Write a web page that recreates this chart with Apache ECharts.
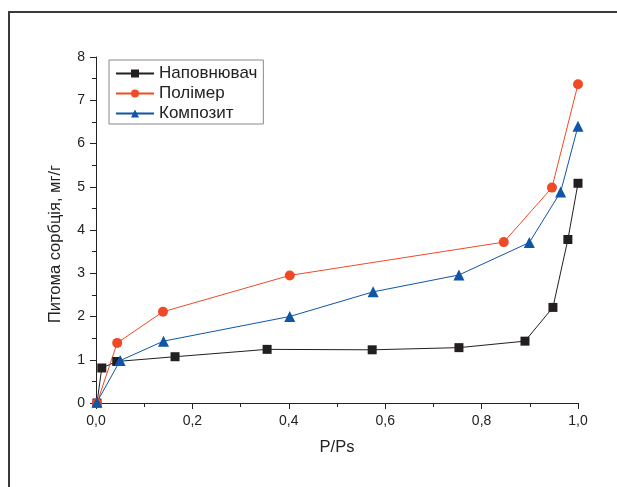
<!DOCTYPE html>
<html>
<head>
    <meta charset="utf-8">
    <title>ECharts</title>
    <script src="https://cdn.jsdelivr.net/npm/echarts@6/dist/echarts.min.js"></script>
</head>
<body style="margin:0;background:#fff">
    <div id="main" style="width: 617px;height:487px;"></div>
    <script type="text/javascript">
        // дані
        var names = ['Наповнювач', 'Полімер', 'Композит'];
        var fillerX = [0.002, 0.012, 0.043, 0.164, 0.355, 0.573, 0.753, 0.890, 0.948, 0.979, 1.0];
        var fillerY = [0.0, 0.81, 0.96, 1.07, 1.24, 1.23, 1.28, 1.43, 2.21, 3.78, 5.08];
        var polymerX = [0.002, 0.044, 0.139, 0.402, 0.846, 0.946, 1.0];
        var polymerY = [0.0, 1.39, 2.11, 2.95, 3.72, 4.98, 7.37];
        var compositeX = [0.002, 0.050, 0.140, 0.402, 0.575, 0.753, 0.899, 0.964, 1.0];
        var compositeY = [0.02, 0.98, 1.43, 2.00, 2.57, 2.96, 3.71, 4.88, 6.40];

        var pairs = function (xs, ys) {
            var res = [];
            for (var i = 0; i < xs.length; i++) {
                res.push([xs[i], ys[i]]);
            }
            return res;
        };

        var myChart = echarts.init(document.getElementById('main'));
        var font = 'Liberation Sans, Arial, sans-serif';

        var option = {
            animation: false,
            backgroundColor: '#fff',
            graphic: [{
                type: 'rect',
                shape: { x: 9, y: 12, width: 700, height: 600 },
                style: { fill: 'none', stroke: '#3a3a3a', lineWidth: 2 },
                silent: true
            }],
            grid: { left: 96, right: 39, top: 57, bottom: 84 },
            legend: {
                orient: 'vertical',
                left: 109,
                top: 60,
                data: names,
                borderColor: '#888',
                borderWidth: 1,
                borderRadius: 0,
                padding: [5, 6, 2, 6],
                itemWidth: 38,
                itemHeight: 10,
                itemGap: 3,
                textStyle: { fontFamily: font, fontSize: 17, color: '#222' }
            },
            xAxis: {
                type: 'value',
                min: 0,
                max: 1,
                interval: 0.2,
                name: 'P/Ps',
                nameLocation: 'middle',
                nameGap: 36,
                nameTextStyle: { fontFamily: font, fontSize: 16.5, color: '#222' },
                axisLine: { lineStyle: { color: '#222', width: 1 } },
                axisTick: { length: 6, lineStyle: { color: '#222' } },
                minorTick: { show: true, splitNumber: 2, length: 4, lineStyle: { color: '#222' } },
                splitLine: { show: false },
                axisLabel: {
                    fontFamily: font, fontSize: 14, color: '#222', margin: 11,
                    formatter: function (v) { return v.toFixed(1).replace('.', ','); }
                }
            },
            yAxis: {
                type: 'value',
                min: 0,
                max: 8,
                interval: 1,
                name: 'Питома сорбція, мг/г',
                nameLocation: 'middle',
                nameGap: 32,
                nameTextStyle: { fontFamily: font, fontSize: 16.5, color: '#222', padding: [0, 28, 0, 0] },
                axisLine: { show: true, lineStyle: { color: '#222', width: 1 } },
                axisTick: { show: true, length: 6, lineStyle: { color: '#222' } },
                minorTick: { show: true, splitNumber: 2, length: 4, lineStyle: { color: '#222' } },
                splitLine: { show: false },
                axisLabel: { fontFamily: font, fontSize: 14, color: '#222', margin: 11 }
            },
            series: [{
                name: names[0],
                type: 'line',
                data: pairs(fillerX, fillerY),
                symbol: 'rect',
                symbolSize: 9,
                color: '#231f20',
                lineStyle: { width: 1 }
            }, {
                name: names[1],
                type: 'line',
                data: pairs(polymerX, polymerY),
                symbol: 'circle',
                symbolSize: 10,
                color: '#ef4a25',
                lineStyle: { width: 1 }
            }, {
                name: names[2],
                type: 'line',
                data: pairs(compositeX, compositeY),
                symbol: 'triangle',
                symbolSize: 11,
                color: '#0f55a8',
                lineStyle: { width: 1 }
            }]
        };

        myChart.setOption(option);
    </script>
</body>
</html>
